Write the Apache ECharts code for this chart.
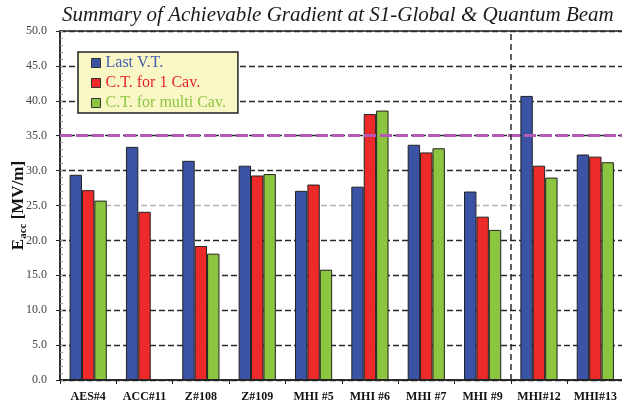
<!DOCTYPE html>
<html>
<head>
<meta charset="utf-8">
<script src="https://cdn.jsdelivr.net/npm/echarts@6/dist/echarts.min.js"></script>
<style>
  html, body { margin: 0; padding: 0; background: #fff; }
  #chart { width: 622px; height: 403px; }
</style>
</head>
<body>
<div id="chart"></div>
<script>
// cavities tested
const categories = ['AES#4', 'ACC#11', 'Z#108', 'Z#109', 'MHI #5', 'MHI #6', 'MHI #7', 'MHI #9', 'MHI#12', 'MHI#13'];
// Eacc values [MV/m]
const lastVT = [29.4, 33.4, 31.4, 30.7, 27.1, 27.7, 33.7, 27.0, 40.7, 32.3];
const ct1Cav = [27.2, 24.1, 19.2, 29.3, 28.0, 38.1, 32.6, 23.4, 30.7, 32.0];
const ctMultiCav = [25.7, null, 18.1, 29.5, 15.8, 38.6, 33.2, 21.5, 29.0, 31.2];
const seriesNames = ['Last V.T.', 'C.T. for 1 Cav.', 'C.T. for multi Cav.'];
const seriesColors = ['#3a53a4', '#ed2a2a', '#8cc53f'];
const legendTextColors = ['#4560aa', '#e8262a', '#8dc63f'];
const targetGradient = 35;   // magenta dashed line
const dividerAt = 8;         // boundary between MHI#9 and MHI#12

var chartDom = document.getElementById('chart');
var myChart = echarts.init(chartDom);

const serif = 'Liberation Serif';
// y split line colours: the 25.0 line is lighter
var splitColors = [];
for (var i = 0; i <= 10; i++) {
    splitColors.push(i === 5 ? '#b5b5b5' : '#2a2a2a');
}

const dataSets = [lastVT, ct1Cav, ctMultiCav];
var barSeries = dataSets.map(function (d, idx) {
    return {
        name: seriesNames[idx],
        type: 'bar',
        data: d,
        barGap: 0,
        barCategoryGap: '34%',
        itemStyle: {
            color: seriesColors[idx],
            borderColor: '#222',
            borderWidth: 1
        },
        z: 3
    };
});
// horizontal target line
barSeries[0].markLine = {
    silent: true,
    symbol: 'none',
    label: { show: false },
    lineStyle: { color: '#b45ab4', width: 3, type: [12, 4] },
    data: [{ yAxis: targetGradient }],
    z: 5
};
// vertical divider on a hidden value axis
barSeries.push({
    name: 'divider',
    type: 'line',
    xAxisIndex: 1,
    data: [],
    markLine: {
        silent: true,
        symbol: 'none',
        label: { show: false },
        lineStyle: { color: '#2a2a2a', width: 1.5, type: [6, 4] },
        data: [{ xAxis: dividerAt }]
    }
});

var option = {
    animation: false,
    title: {
        text: 'Summary of Achievable Gradient at S1-Global & Quantum Beam',
        left: 57,
        top: 0,
        textStyle: {
            fontFamily: serif,
            fontStyle: 'italic',
            fontWeight: 'normal',
            fontSize: 21,
            color: '#1a1a1a'
        }
    },
    legend: {
        orient: 'vertical',
        left: 78,
        top: 52,
        backgroundColor: '#faf7c6',
        borderColor: '#222',
        borderWidth: 1.5,
        padding: [2, 12, 1, 13],
        itemGap: 2,
        itemWidth: 9,
        itemHeight: 9,
        icon: 'rect',
        itemStyle: { borderColor: '#333', borderWidth: 1 },
        data: seriesNames.map(function (n, idx) {
            return { name: n, textStyle: { color: legendTextColors[idx] } };
        }),
        textStyle: { fontFamily: serif, fontSize: 16, lineHeight: 18 }
    },
    grid: {
        left: 60,
        top: 31,
        width: 563.5,
        height: 349,
        outerBoundsMode: 'none',
        show: true,
        borderColor: '#222',
        borderWidth: 1.5
    },
    xAxis: [{
        type: 'category',
        data: categories,
        axisLine: { lineStyle: { color: '#222', width: 1.5 } },
        axisTick: { show: true, length: 4, lineStyle: { color: '#222' } },
        axisLabel: {
            interval: 0,
            fontFamily: serif,
            fontWeight: 'bold',
            fontSize: 12,
            color: '#111',
            margin: 11
        }
    }, {
        type: 'value',
        min: 0,
        max: categories.length,
        show: false
    }],
    yAxis: [{
        type: 'value',
        min: 0,
        max: 50,
        interval: 5,
        name: '{e|E}{s|acc}{t| [MV/m]}',
        nameLocation: 'middle',
        nameRotate: 90,
        nameGap: 31,
        nameMoveOverlap: false,
        nameTextStyle: {
            rich: {
                e: { fontFamily: serif, fontWeight: 'bold', fontSize: 17, color: '#111', lineHeight: 21, verticalAlign: 'middle' },
                s: { fontFamily: serif, fontWeight: 'bold', fontSize: 11, color: '#111', lineHeight: 21, verticalAlign: 'bottom' },
                t: { fontFamily: serif, fontWeight: 'bold', fontSize: 17, color: '#111', lineHeight: 21, verticalAlign: 'middle' }
            }
        },
        axisLine: { show: true, lineStyle: { color: '#222', width: 1.5 } },
        axisTick: { show: true, length: 4, lineStyle: { color: '#222' } },
        axisLabel: {
            fontFamily: serif,
            fontSize: 12,
            color: '#444',
            margin: 13,
            formatter: function (v) { return v.toFixed(1); }
        },
        splitLine: {
            show: true,
            lineStyle: { color: splitColors, width: 1.3, type: [6, 3] }
        }
    }, {
        // minor ticks inside the plot
        type: 'value',
        position: 'left',
        min: 0,
        max: 50,
        interval: 1,
        axisLine: { show: false },
        axisLabel: { show: false },
        splitLine: { show: false },
        axisTick: { show: true, inside: true, length: 3, lineStyle: { color: '#999' } }
    }],
    series: barSeries
};

myChart.setOption(option);
</script>
</body>
</html>
